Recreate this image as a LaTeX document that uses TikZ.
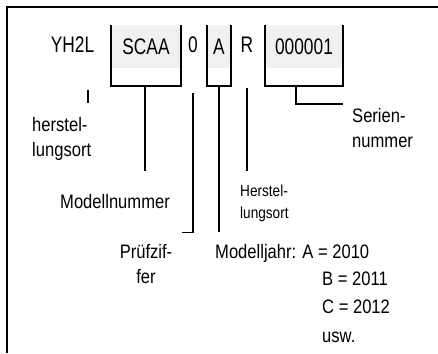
\documentclass[tikz,border=0pt]{standalone}
\usepackage{fontspec}
\setmainfont[FakeStretch=0.85]{Liberation Sans}
\newfontfamily\codefont[FakeStretch=0.77]{Liberation Sans}
\definecolor{feldgrau}{HTML}{F0F0F0}
\begin{document}
\begin{tikzpicture}[x=1pt, y=1pt,
  feld/.style={fill=feldgrau, inner sep=0pt, minimum height=43pt, font=\codefont\fontsize{22.5}{25}\selectfont},
  zeichen/.style={inner sep=0pt, anchor=base, font=\codefont\fontsize{22.5}{25}\selectfont},
  notiz/.style={inner sep=0pt, anchor=base west, align=left, font=\fontsize{19.5}{25}\selectfont},
  klammer/.style={line width=1.8pt},
  strich/.style={line width=1.8pt}]
\useasboundingbox (0,0) rectangle (438,353);
\draw[line width=2.8pt] (7,0) -- (7,346) -- (438,346);
% Kennung
\node[zeichen] (hersteller) at (72.5,300) {YH2L};
\node[feld, minimum width=70pt] (modell) at (146,306.5) {SCAA};
\node[zeichen] (pruef) at (193,300) {0};
\node[feld, minimum width=24pt] (jahr) at (219,306.5) {A};
\node[zeichen] (werk) at (247,300) {R};
\node[feld, minimum width=78pt] (serie) at (304,306.5) {000001};
\draw[klammer] (modell.north west) -- ++(0,-61) -| (modell.north east);
\draw[klammer] (jahr.north west) -- ++(0,-61) -| (jahr.north east);
\draw[klammer] (serie.north west) -- ++(0,-61) -| (serie.north east);
% Erklaerungen (base = letzte Zeile)
\node[notiz] (hersteller-text) at (32,196) {herstel-\\lungsort};
\node[notiz] (modell-text) at (60,144) {Modellnummer};
\node[notiz, align=center, anchor=base] (pruef-text) at (146,70) {Prüfzif-\\fer};
\node[notiz, font=\fontsize{16}{21}\selectfont] (werk-text) at (240,135) {Herstel-\\lungsort};
\node[notiz] (jahr-text) at (215,94) {Modelljahr: A = 2010};
\node[notiz, font=\fontsize{19.5}{28.5}\selectfont] (jahr-liste) at (322,11) {B = 2011\\C = 2012\\usw.};
\node[notiz] (serie-text) at (352,205) {Serien-\\nummer};
% Striche
\draw[strich] (hersteller.south) ++(15.5,-37) -- ++(0,-13);
\draw[strich] (modell.south) ++(-1,-18) -- ++(0,-85);
\draw[strich] (pruef.south) ++(0,-40) -- ++(0,-139) -- ++(-11,0);
\draw[strich] (jahr.south) ++(0,-18) -- ++(0,-146);
\draw[strich] (werk.south) ++(0,-35) -- ++(0,-83);
\draw[strich] (serie.south) ++(-8,-18) -- ++(0,-18) -- ++(47,0);
\end{tikzpicture}
\end{document}
